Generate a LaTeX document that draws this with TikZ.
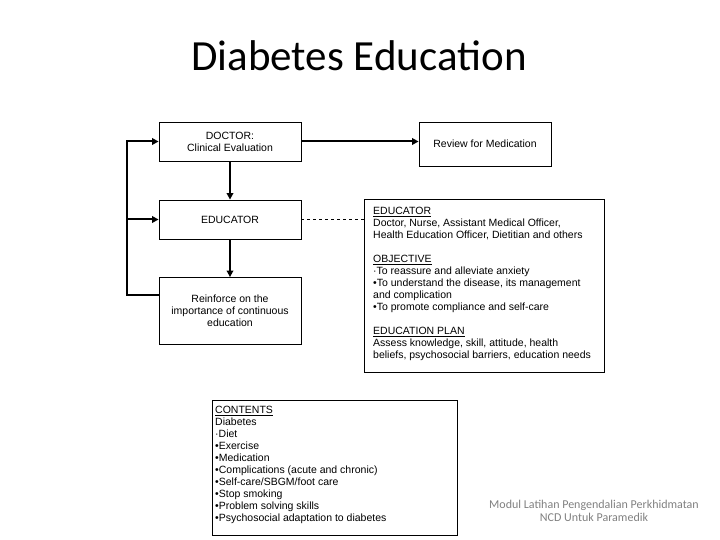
\documentclass[tikz,border=0pt]{standalone}
\usepackage{fontspec}
\setmainfont{Liberation Sans}
\newfontfamily\titlefont{Carlito}
\usetikzlibrary{arrows.meta}
\begin{document}
\begin{tikzpicture}[x=1pt,y=-1pt,
  box/.style={draw, line width=0.8pt, align=center, inner sep=0pt, font=\fontsize{10.5}{12}\selectfont},
  bigbox/.style={draw, line width=1pt, inner sep=0pt},
  txt/.style={align=left, inner sep=0pt, anchor=north west, font=\fontsize{10.5}{12}\selectfont},
  arr/.style={line width=2pt, -{Triangle[length=6.5pt,width=6.5pt]}}]
\useasboundingbox (0,0) rectangle (720,540);
\node[anchor=base, font=\titlefont\fontsize{43}{50}\selectfont] (title) at (359,71) {Diabetes Education};
\node[box, minimum width=142, minimum height=39] (doc) at (230,141.5) {DOCTOR:\\Clinical Evaluation};
\node[box, minimum width=142, minimum height=39] (edu) at (230,219.5) {EDUCATOR};
\node[box, minimum width=142, minimum height=67] (rein) at (230,311) {Reinforce on the\\importance of continuous\\education};
\node[box, minimum width=132, minimum height=44] (rev) at (485,144) {Review for Medication};
\node[bigbox, minimum width=240, minimum height=172] (big) at (484,286) {};
\node[txt] (bigtxt) at (373,207) {\underline{EDUCATOR}\\
Doctor, Nurse, Assistant Medical Officer,\\
Health Education Officer, Dietitian and others\\[12pt]
\underline{OBJECTIVE}\\
·To reassure and alleviate anxiety\\
•To understand the disease, its management\\
and complication\\
•To promote compliance and self-care\\[12pt]
\underline{EDUCATION PLAN}\\
Assess knowledge, skill, attitude, health\\
beliefs, psychosocial barriers, education needs};
\node[bigbox, minimum width=245, minimum height=135] (cont) at (334.5,467.5) {};
\node[txt] (conttxt) at (215,406) {\underline{CONTENTS}\\
Diabetes\\
·Diet\\
•Exercise\\
•Medication\\
•Complications (acute and chronic)\\
•Self-care/SBGM/foot care\\
•Stop smoking\\
•Problem solving skills\\
•Psychosocial adaptation to diabetes};
\node[align=center, text=black!50, font=\titlefont\fontsize{12}{13.5}\selectfont] (foot) at (594,511) {Modul Latihan Pengendalian Perkhidmatan\\NCD Untuk Paramedik};
\coordinate (lb) at (127,295);
\draw[arr] (doc) -- (edu);
\draw[arr] (edu) -- (rein);
\draw[arr] (doc.east) -- (doc.east -| rev.west);
\draw[arr] (rein.west |- lb) -- (lb) -- (lb |- doc.west) -- (doc.west);
\draw[arr] (lb |- edu.west) -- (edu.west);
\draw[dashed, line width=0.8pt] (edu.east) -- (edu.east -| big.west);
\end{tikzpicture}
\end{document}
